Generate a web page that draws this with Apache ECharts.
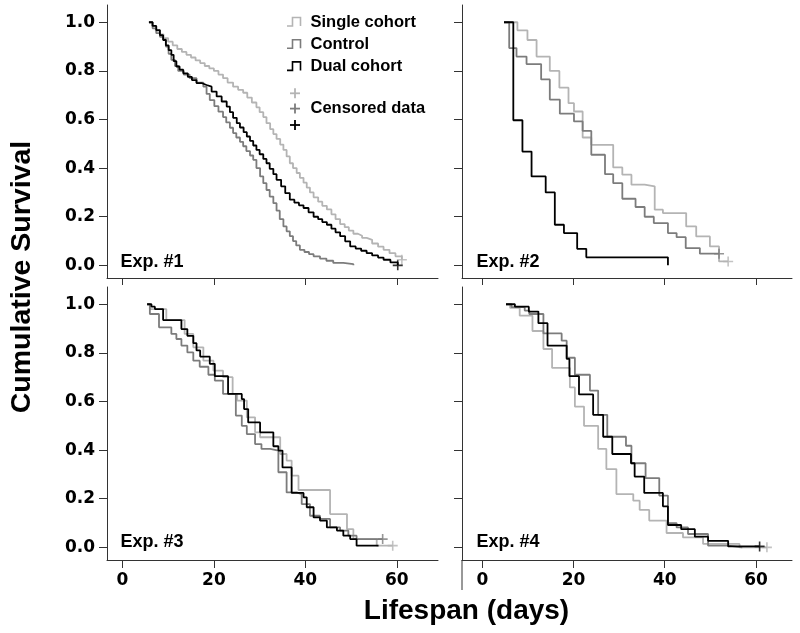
<!DOCTYPE html>
<html><head><meta charset="utf-8">
<script src="https://cdn.jsdelivr.net/npm/echarts@6/dist/echarts.min.js"></script>
<style>html,body{margin:0;padding:0;background:#fff}#c{width:800px;height:633px}</style>
</head><body><div id="c"></div>
<script>
// ---- data (day, cumulative survival), Kaplan-Meier steps ----
const groups = ['Single cohort', 'Control', 'Dual cohort'];
const panelLabels = ['Exp. #1', 'Exp. #2', 'Exp. #3', 'Exp. #4'];
const xTicks = [0, 20, 40, 60];
const yTicks = [0, 0.2, 0.4, 0.6, 0.8, 1.0];

const exp1Single = [[5.8,1],[6.5,0.985],[7.3,0.965],[8.2,0.95],[9.0,0.935],[10.0,0.92],[11.0,0.905],[12.0,0.89],[13.0,0.878],[14.0,0.866],[15.0,0.855],[16.0,0.843],[17.0,0.832],[18.0,0.82],[19.0,0.81],[20.0,0.80],[21.0,0.785],[22.0,0.77],[23.0,0.752],[24.2,0.735],[25.3,0.722],[26.4,0.71],[27.3,0.69],[28.3,0.67],[29.3,0.65],[30.0,0.63],[30.8,0.61],[31.5,0.585],[32.3,0.56],[33.0,0.54],[33.7,0.52],[34.5,0.497],[35.2,0.475],[35.9,0.448],[36.6,0.42],[37.3,0.40],[38.1,0.38],[38.8,0.36],[39.6,0.34],[40.3,0.32],[41.0,0.30],[41.8,0.28],[42.8,0.262],[43.7,0.245],[44.7,0.23],[45.7,0.21],[46.6,0.19],[47.6,0.17],[48.6,0.157],[49.5,0.143],[50.5,0.13],[51.5,0.122],[52.4,0.113],[53.4,0.105],[54.6,0.09],[55.9,0.077],[57.1,0.064],[58.4,0.05],[59.7,0.037],[61.1,0.023]];
const exp1Control = [[5.8,1],[6.6,0.975],[7.4,0.955],[8.2,0.94],[8.9,0.93],[9.5,0.9],[10.1,0.87],[10.7,0.845],[11.5,0.82],[12.2,0.80],[13.4,0.785],[14.7,0.77],[16.2,0.752],[17.7,0.735],[18.4,0.705],[19.1,0.68],[20.1,0.655],[21.0,0.632],[22.0,0.61],[22.7,0.588],[23.5,0.566],[24.2,0.544],[24.9,0.526],[25.7,0.508],[26.4,0.49],[27.1,0.47],[27.9,0.452],[28.6,0.434],[29.3,0.40],[30.1,0.366],[30.8,0.338],[31.5,0.31],[32.2,0.283],[33.0,0.256],[33.7,0.225],[34.4,0.19],[35.2,0.16],[35.9,0.14],[36.6,0.12],[37.3,0.10],[38.0,0.082],[38.8,0.064],[39.8,0.055],[40.8,0.046],[41.8,0.037],[43.2,0.028],[44.6,0.019],[46.1,0.01],[48.3,0.005],[50.5,0.0]];
const exp1Dual = [[5.8,1],[6.6,0.985],[7.4,0.968],[8.2,0.947],[8.9,0.927],[9.5,0.905],[10.1,0.885],[10.7,0.866],[11.2,0.84],[11.8,0.818],[12.5,0.805],[13.3,0.79],[14.3,0.775],[15.2,0.762],[16.2,0.75],[17.3,0.742],[18.4,0.735],[19.5,0.715],[20.6,0.695],[21.7,0.674],[22.8,0.653],[23.5,0.63],[24.2,0.607],[25.0,0.585],[25.7,0.567],[26.5,0.548],[27.2,0.53],[27.9,0.512],[28.6,0.493],[29.3,0.475],[30.0,0.457],[30.8,0.438],[31.5,0.42],[32.2,0.397],[33.0,0.375],[33.7,0.352],[34.7,0.325],[35.6,0.297],[36.6,0.27],[37.6,0.258],[38.6,0.247],[39.6,0.236],[40.7,0.218],[41.8,0.2],[42.8,0.19],[43.7,0.178],[44.7,0.167],[45.7,0.151],[46.6,0.136],[47.6,0.12],[48.7,0.099],[49.8,0.078],[51.0,0.069],[52.2,0.06],[53.4,0.05],[54.6,0.041],[55.9,0.032],[57.1,0.023],[58.6,0.012],[60.2,0.0]];

const exp2Single = [[4.76,1],[7.7,0.967],[9.9,0.927],[11.9,0.859],[14.8,0.80],[16.9,0.731],[18.9,0.667],[20.1,0.633],[22.0,0.526],[23.9,0.496],[28.7,0.403],[30.7,0.373],[32.7,0.332],[35.6,0.325],[37.8,0.229],[39.6,0.215],[44.7,0.16],[46.9,0.119],[49.9,0.078],[51.9,0.016],[53.9,0.016]];
const exp2Control = [[4.76,1],[5.9,0.894],[7.5,0.859],[9.7,0.828],[12.9,0.765],[14.8,0.682],[17.0,0.624],[20.1,0.592],[22.0,0.553],[23.9,0.455],[26.9,0.375],[28.7,0.338],[30.7,0.274],[33.6,0.24],[35.6,0.20],[37.6,0.174],[40.7,0.133],[42.6,0.116],[44.6,0.071],[47.7,0.048],[51.9,0.048]];
const exp2Dual = [[4.76,1],[6.8,0.597],[8.8,0.468],[10.8,0.366],[13.9,0.30],[15.9,0.167],[17.9,0.133],[20.8,0.068],[22.8,0.033],[40.7,0.0]];

const exp3Single = [[5.4,1],[6.0,0.98],[9.6,0.935],[13.6,0.878],[15.5,0.823],[17.7,0.768],[19.9,0.727],[22.0,0.70],[24.1,0.631],[25.1,0.604],[27.2,0.535],[29.0,0.473],[30.1,0.453],[34.5,0.384],[35.9,0.357],[37.0,0.295],[38.5,0.236],[45.4,0.137],[49.1,0.075],[50.5,0.034],[55.6,0.007],[59.1,0.007]];
const exp3Control = [[5.4,1],[6.0,0.96],[8.0,0.905],[10.7,0.878],[11.8,0.857],[12.9,0.83],[14.2,0.802],[15.5,0.768],[16.9,0.743],[18.8,0.71],[20.2,0.686],[22.0,0.631],[24.8,0.542],[26.1,0.50],[27.2,0.466],[29.0,0.425],[30.4,0.405],[32.3,0.398],[34.1,0.309],[35.9,0.226],[38.1,0.219],[39.2,0.178],[41.0,0.13],[43.2,0.117],[45.4,0.082],[47.6,0.069],[49.4,0.048],[51.2,0.034],[56.9,0.034]];
const exp3Dual = [[5.4,1],[6.35,0.99],[7.1,0.98],[8.9,0.935],[12.9,0.898],[14.2,0.87],[15.5,0.84],[16.2,0.81],[17.0,0.785],[19.1,0.755],[20.2,0.704],[23.1,0.631],[26.1,0.61],[26.6,0.569],[27.5,0.514],[30.1,0.473],[33.0,0.416],[34.1,0.398],[35.0,0.329],[37.0,0.224],[39.6,0.206],[40.3,0.165],[41.8,0.123],[43.2,0.11],[44.7,0.082],[46.9,0.069],[48.3,0.048],[49.8,0.034],[51.2,0.007],[56.0,0.007]];

const exp4Single = [[5.2,1],[6.1,0.985],[8.2,0.953],[11.0,0.89],[13.4,0.816],[15.3,0.738],[19.2,0.658],[20.3,0.579],[22.3,0.50],[25.4,0.405],[27.2,0.322],[29.4,0.219],[33.1,0.192],[34.5,0.154],[36.6,0.11],[40.4,0.059],[44.0,0.041],[48.4,0.014],[56.4,0.0],[62.4,0.0]];
const exp4Control = [[5.2,1],[6.4,0.988],[9.3,0.974],[10.3,0.96],[13.4,0.88],[17.4,0.85],[18.5,0.78],[20.3,0.71],[23.6,0.645],[25.4,0.545],[27.4,0.455],[31.5,0.418],[32.7,0.346],[35.8,0.285],[38.8,0.213],[40.7,0.10],[42.6,0.082],[45.1,0.055],[49.5,0.007],[53.9,0.0],[57.0,0.0]];
const exp4Dual = [[5.2,1],[7.15,0.99],[10.2,0.97],[12.3,0.922],[14.3,0.83],[18.5,0.775],[19.1,0.704],[21.2,0.629],[24.3,0.545],[26.5,0.455],[28.5,0.384],[32.6,0.346],[33.4,0.291],[35.5,0.224],[39.6,0.169],[40.7,0.092],[43.6,0.075],[46.6,0.044],[49.5,0.027],[53.9,0.004],[60.8,0.004]];

// censored observations: [day, survival, group index]
const exp1Censored = [[61.1,0.023,0],[60.2,0.0,2]];
const exp2Censored = [[51.9,0.048,1],[53.9,0.016,0]];
const exp3Censored = [[56.9,0.034,1],[59.1,0.007,0]];
const exp4Censored = [[60.8,0.004,2],[62.4,0.0,0]];

// ---- styling / layout ----
const colors = ['#b4b4b4', '#7c7c7c', '#000000'];
const axisColor = '#333';
const tickFont = 'DejaVu Sans';
const textFont = '"Liberation Sans", Arial, Helvetica, sans-serif';
const expData = [
  [exp1Single, exp1Control, exp1Dual],
  [exp2Single, exp2Control, exp2Dual],
  [exp3Single, exp3Control, exp3Dual],
  [exp4Single, exp4Control, exp4Dual]
];
const censored = [exp1Censored, exp2Censored, exp3Censored, exp4Censored];

const grids = [
  {left: 107, top: 5, width: 331, height: 273},
  {left: 462, top: 5, width: 330, height: 273},
  {left: 107, top: 287, width: 331, height: 273},
  {left: 462, top: 287, width: 330, height: 273}
];
const xRanges = [[-3.37, 69.0], [-4.45, 67.9], [-3.37, 69.0], [-4.45, 67.9]];
const yRange = [-0.052, 1.071];
const plusPath = 'path://M4.2,0H5.8V4.2H10V5.8H5.8V10H4.2V5.8H0V4.2H4.2Z';

const xAxes = grids.map((g, i) => ({
  type: 'value', gridIndex: i, min: xRanges[i][0], max: xRanges[i][1],
  axisLine: {show: true, onZero: false, lineStyle: {color: axisColor, width: 1}},
  axisTick: {show: true, inside: false, length: i < 2 ? 7 : 8, customValues: xTicks, lineStyle: {color: axisColor, width: 1}},
  axisLabel: {show: i >= 2, customValues: xTicks, margin: 12, color: '#000', fontSize: 17, fontWeight: 'bold', fontFamily: tickFont},
  splitLine: {show: false}
}));
const yAxes = grids.map((g, i) => ({
  type: 'value', gridIndex: i, min: yRange[0], max: yRange[1],
  axisLine: {show: true, onZero: false, lineStyle: {color: axisColor, width: 1}},
  axisTick: {show: true, inside: false, length: 8, customValues: yTicks, lineStyle: {color: axisColor, width: 1}},
  axisLabel: {show: i % 2 === 0, customValues: yTicks, margin: 12, color: '#000', fontSize: 17, fontWeight: 'bold', fontFamily: tickFont,
    formatter: v => v.toFixed(1)},
  splitLine: {show: false}
}));

const series = [];
expData.forEach((arr, p) => {
  arr.forEach((d, gi) => {
    series.push({
      type: 'line', name: groups[gi], xAxisIndex: p, yAxisIndex: p, data: d, step: 'end',
      showSymbol: false, symbol: 'none', silent: true, z: 2 + gi,
      lineStyle: {color: colors[gi], width: 1.8}, itemStyle: {color: colors[gi]}
    });
  });
  groups.forEach((name, gi) => {
    const pts = censored[p].filter(c => c[2] === gi).map(c => [c[0], c[1]]);
    if (pts.length) series.push({
      type: 'scatter', name: name + ' (censored)', xAxisIndex: p, yAxisIndex: p, data: pts,
      symbol: plusPath, symbolSize: 10, silent: true, z: 6,
      itemStyle: {color: colors[gi]}
    });
  });
});

// legend drawn inside Exp. #1 panel
const legendGraphics = [];
groups.forEach((name, gi) => {
  const cy = 22 + gi * 22.2;
  legendGraphics.push({
    type: 'polyline', silent: true,
    shape: {points: [[287, cy + 4], [292.5, cy + 4], [292.5, cy - 4.5], [300.5, cy - 4.5], [300.5, cy + 4]]},
    style: {stroke: colors[gi], lineWidth: 1.6, fill: null}
  });
  legendGraphics.push({
    type: 'text', silent: true, x: 310.5, y: cy,
    style: {text: name, fill: '#000', font: 'bold 16.5px ' + textFont, textAlign: 'left', textVerticalAlign: 'middle'}
  });
});
[93.3, 108.6, 125].forEach((cy, gi) => {
  legendGraphics.push({type: 'line', silent: true, shape: {x1: 290, y1: cy, x2: 300, y2: cy}, style: {stroke: colors[gi], lineWidth: 1.8}});
  legendGraphics.push({type: 'line', silent: true, shape: {x1: 295, y1: cy - 5, x2: 295, y2: cy + 5}, style: {stroke: colors[gi], lineWidth: 1.8}});
});
legendGraphics.push({
  type: 'text', silent: true, x: 310.5, y: 108.6,
  style: {text: 'Censored data', fill: '#000', font: 'bold 16.5px ' + textFont, textAlign: 'left', textVerticalAlign: 'middle'}
});

const labelPos = [[120.5, 262.5], [476.5, 262.5], [120.5, 542.5], [476.5, 542.5]];
const panelText = panelLabels.map((t, i) => ({
  type: 'text', silent: true, x: labelPos[i][0], y: labelPos[i][1],
  style: {text: t, fill: '#000', font: 'bold 18px ' + textFont, textAlign: 'left', textVerticalAlign: 'middle'}
}));

const titles = [
  {type: 'text', silent: true, x: 22, y: 277, rotation: Math.PI / 2,
   style: {text: 'Cumulative Survival', fill: '#000', font: 'bold 28.5px ' + textFont, textAlign: 'center', textVerticalAlign: 'middle'}},
  {type: 'text', silent: true, x: 466.5, y: 611.5,
   style: {text: 'Lifespan (days)', fill: '#000', font: 'bold 28px ' + textFont, textAlign: 'center', textVerticalAlign: 'middle'}},
  {type: 'line', silent: true, shape: {x1: 462, y1: 560, x2: 462, y2: 590}, style: {stroke: axisColor, lineWidth: 1}}
];

const chart = echarts.init(document.getElementById('c'), null, {renderer: 'canvas'});
chart.setOption({
  animation: false,
  backgroundColor: '#fff',
  grid: grids,
  xAxis: xAxes,
  yAxis: yAxes,
  series: series,
  graphic: legendGraphics.concat(panelText, titles)
});
</script></body></html>
